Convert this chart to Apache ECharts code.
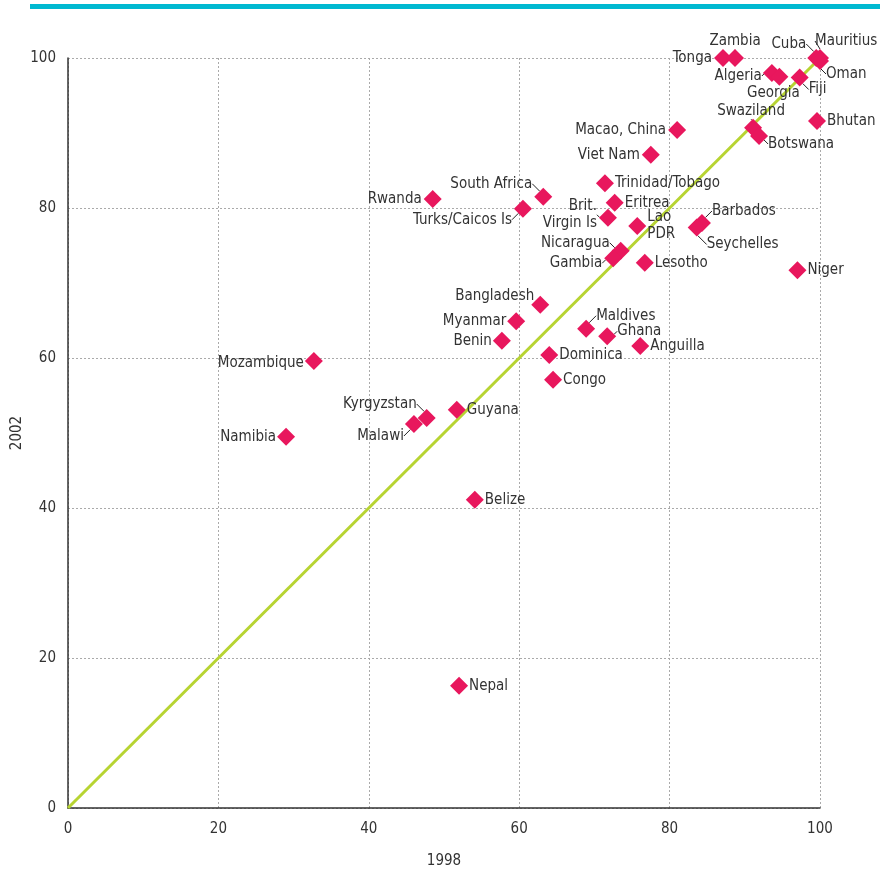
<!DOCTYPE html>
<html>
<head>
<meta charset="utf-8">
<script src="https://cdn.jsdelivr.net/npm/echarts@6/dist/echarts.min.js"></script>
<style>
  html, body { margin: 0; padding: 0; background: #fff; }
  #chart { width: 886px; height: 872px; }
</style>
</head>
<body>
<div id="chart"></div>
<script>
const fontFamily = '"Liberation Sans Narrow", "DejaVu Sans Condensed", sans-serif'

// country names, 1998 values, 2002 values
const countries = [
  'Tonga', 'Zambia', 'Cuba', 'Mauritius', 'Oman', 'Algeria', 'Georgia', 'Fiji',
  'Bhutan', 'Swaziland', 'Botswana', 'Macao, China', 'Viet Nam', 'South Africa',
  'Rwanda', 'Turks/Caicos Is', 'Trinidad/Tobago', 'Eritrea', 'Brit.\nVirgin Is',
  'Lao\nPDR', 'Barbados', 'Seychelles', 'Nicaragua', 'Gambia', 'Lesotho', 'Niger',
  'Bangladesh', 'Myanmar', 'Benin', 'Maldives', 'Ghana', 'Anguilla', 'Dominica',
  'Congo', 'Mozambique', 'Kyrgyzstan', 'Malawi', 'Guyana', 'Namibia', 'Belize', 'Nepal'
]
const values1998 = [
  87.1, 88.7, 99.5, 100, 100, 93.6, 94.6, 97.3,
  99.6, 91.1, 91.9, 81.0, 77.5, 63.2,
  48.5, 60.5, 71.4, 72.7, 71.8,
  75.7, 84.3, 83.6, 73.5, 72.5, 76.7, 97.0,
  62.8, 59.6, 57.7, 68.9, 71.7, 76.1, 64.0,
  64.5, 32.7, 47.7, 46.0, 51.7, 29.0, 54.1, 52.0
]
const values2002 = [
  100, 100, 100, 100, 99.6, 98.0, 97.5, 97.4,
  91.6, 90.7, 89.6, 90.4, 87.1, 81.5,
  81.2, 79.9, 83.3, 80.7, 78.7,
  77.6, 78.0, 77.4, 74.3, 73.3, 72.7, 71.7,
  67.1, 64.9, 62.3, 63.9, 62.9, 61.6, 60.4,
  57.1, 59.6, 52.0, 51.2, 53.1, 49.5, 41.1, 16.3
]
const diagonal = [[0, 0], [100, 100]]

// label placement: [dx, dy, align, leader line]
const placement = {
  'Tonga': [-11, 0, 'right', false],
  'Zambia': [0, -17, 'center', true],
  'Cuba': [-10, -14, 'right', true],
  'Mauritius': [-5, -17, 'left', true],
  'Oman': [6, 13, 'left', true],
  'Algeria': [-10, 3, 'right', true],
  'Georgia': [-6, 16, 'center', false],
  'Fiji': [9, 12, 'left', true],
  'Bhutan': [10, 0, 'left', false],
  'Swaziland': [-2, -17, 'center', true],
  'Botswana': [9, 8, 'left', true],
  'Macao, China': [-11, 0, 'right', false],
  'Viet Nam': [-11, 0, 'right', false],
  'South Africa': [-11, -13, 'right', true],
  'Rwanda': [-11, 0, 'right', false],
  'Turks/Caicos Is': [-11, 11, 'right', true],
  'Trinidad/Tobago': [10, 0, 'left', false],
  'Eritrea': [10, 0, 'left', false],
  'Brit.\nVirgin Is': [-11, -3, 'right', true],
  'Lao\nPDR': [10, 0, 'left', false],
  'Barbados': [10, -12, 'left', true],
  'Seychelles': [10, 17, 'left', true],
  'Nicaragua': [-11, -8, 'right', true],
  'Gambia': [-11, 5, 'right', true],
  'Lesotho': [10, 0, 'left', false],
  'Niger': [10, 0, 'left', false],
  'Bangladesh': [-6, -9, 'right', false],
  'Myanmar': [-10, 0, 'right', false],
  'Benin': [-10, 0, 'right', false],
  'Maldives': [10, -13, 'left', true],
  'Ghana': [10, -5, 'left', true],
  'Anguilla': [10, 0, 'left', false],
  'Dominica': [10, 0, 'left', false],
  'Congo': [10, 0, 'left', false],
  'Mozambique': [-10, 2, 'right', false],
  'Kyrgyzstan': [-10, -14, 'right', true],
  'Malawi': [-10, 12, 'right', true],
  'Guyana': [10, 0, 'left', false],
  'Namibia': [-10, 0, 'right', false],
  'Belize': [10, 0, 'left', false],
  'Nepal': [10, 0, 'left', false]
}

const points = countries.map((name, i) => ({
  name,
  value: [values1998[i], values2002[i]],
  labelLine: { show: placement[name][3] }
}))

const textStyle = { color: '#333', fontFamily, fontSize: 15 }

const chart = echarts.init(document.getElementById('chart'), null, { renderer: 'canvas' })

chart.setOption({
  animation: false,
  graphic: [{
    type: 'rect',
    shape: { x: 30, y: 4, width: 850, height: 5 },
    style: { fill: '#00b9d1' }
  }],
  grid: { left: 68, right: 66, top: 58, bottom: 64, outerBoundsMode: 'none', containLabel: false },
  xAxis: {
    type: 'value',
    min: 0,
    max: 100,
    interval: 20,
    name: '1998',
    nameLocation: 'middle',
    nameGap: 46,
    nameMoveOverlap: false,
    nameTextStyle: textStyle,
    axisLine: { lineStyle: { color: '#333', width: 1.5 } },
    axisTick: { show: false },
    axisLabel: { ...textStyle, margin: 14 },
    splitLine: { lineStyle: { color: '#aaa', type: [2, 2] } }
  },
  yAxis: {
    type: 'value',
    min: 0,
    max: 100,
    interval: 20,
    name: '2002',
    nameLocation: 'middle',
    nameGap: 43,
    nameMoveOverlap: false,
    nameTextStyle: textStyle,
    axisLine: { lineStyle: { color: '#333', width: 1.5 } },
    axisTick: { show: false },
    axisLabel: { ...textStyle, margin: 12 },
    splitLine: { lineStyle: { color: '#aaa', type: [2, 2] } }
  },
  series: [
    {
      type: 'line',
      data: diagonal,
      symbol: 'none',
      silent: true,
      lineStyle: { color: '#b7d432', width: 3 },
      z: 1
    },
    {
      type: 'scatter',
      data: points,
      symbol: 'diamond',
      symbolSize: 18,
      itemStyle: { color: '#e8175d', opacity: 1 },
      z: 3,
      label: {
        show: true,
        formatter: '{b}',
        position: 'inside',
        ...textStyle,
        lineHeight: 17
      },
      labelLine: {
        show: false,
        lineStyle: { color: '#222', width: 1 }
      },
      labelLayout: (params) => {
        const p = placement[countries[params.dataIndex]]
        const cx = params.rect.x + params.rect.width / 2
        const cy = params.rect.y + params.rect.height / 2
        return {
          x: cx + p[0],
          y: cy + p[1],
          align: p[2],
          verticalAlign: 'middle'
        }
      }
    }
  ]
})
</script>
</body>
</html>
